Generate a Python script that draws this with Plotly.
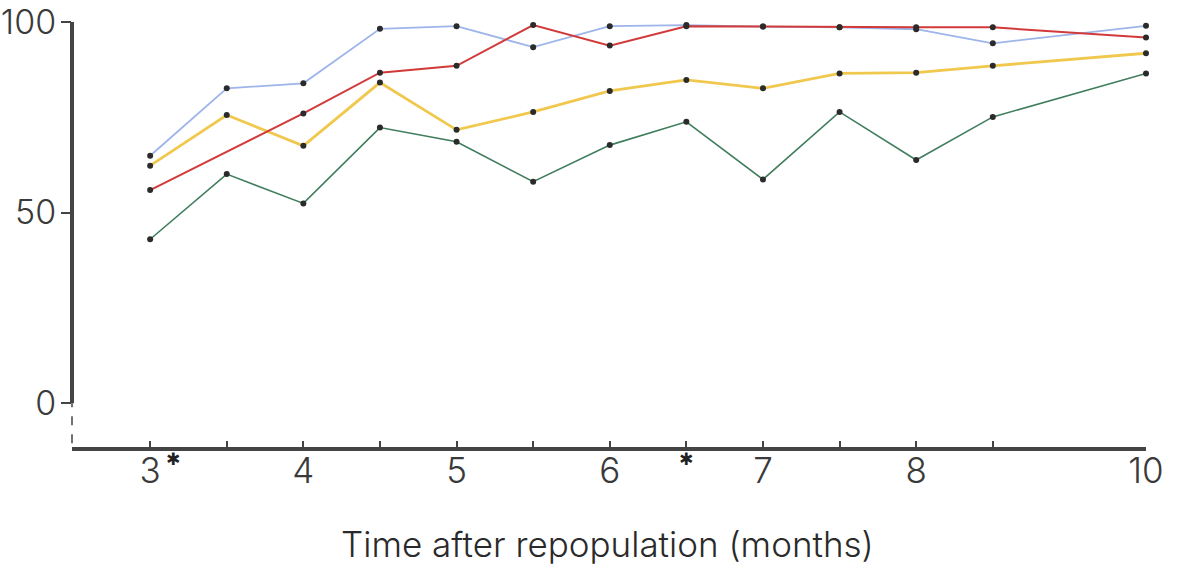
import plotly.graph_objects as go

# Months (category positions; "9" has no data and no tick, giving the broken-axis gap)
months = ["3", "3.5", "4", "4.5", "5", "5.5", "6", "6.5", "7", "7.5", "8", "8.5", "9", "10"]
tick_months = ["3", "3.5", "4", "4.5", "5", "5.5", "6", "6.5", "7", "7.5", "8", "8.5", "10"]
tick_labels = ["3", "", "4", "", "5", "", "6", "", "7", "", "8", "", "10"]
starred_months = ["3", "6.5"]

blue = [64.9, 82.6, 83.9, 98.2, 98.9, 93.4, 98.9, 99.2, 98.8, 98.6, 98.1, 94.4, None, 99.0]
red = [55.9, None, 76.0, 86.7, 88.5, 99.2, 93.8, 98.9, 98.8, 98.6, 98.6, 98.6, None, 95.9]
yellow = [62.3, 75.6, 67.5, 84.1, 71.7, 76.4, 81.9, 84.8, 82.6, 86.5, 86.7, 88.5, None, 91.8]
green = [43.0, 60.1, 52.4, 72.3, 68.6, 58.1, 67.7, 73.8, 58.7, 76.4, 63.8, 75.1, None, 86.5]

y_ticks = [0, 50, 100]
x_title = "Time after repopulation (months)"

FONT = "Inter, DejaVu Sans, sans-serif"
AXC = "#444444"
MARK = "#2b2b2b"

fig = go.Figure()
series = [
    (green, "#3f7d5c", 1.6),
    (yellow, "#f1c84e", 2.8),
    (blue, "#9db5ea", 1.8),
    (red, "#d23a3a", 2.0),
]
for vals, col, w in series:
    fig.add_trace(go.Scatter(
        x=months, y=vals, mode="lines+markers", connectgaps=True,
        line=dict(color=col, width=w),
        marker=dict(color=MARK, size=6),
        cliponaxis=False, showlegend=False, hoverinfo="skip",
    ))

# y axis drawn as solid line from 0 to 100, dashed below 0
fig.add_shape(type="line", xref="paper", yref="y", x0=0, x1=0, y0=0, y1=100,
              line=dict(color=AXC, width=4))
fig.add_shape(type="line", xref="paper", yref="y", x0=0, x1=0, y0=-10.5, y1=0,
              line=dict(color=AXC, width=1.5, dash="dash"))

# asterisks under the axis
for m, dx in zip(starred_months, [23, 0]):
    fig.add_annotation(x=months.index(m), y=0, yref="paper", xref="x", text="✱",
                       showarrow=False, xshift=dx, yshift=-24,
                       font=dict(family="DejaVu Sans", size=17, color="#222"))

# axis title
fig.add_annotation(x=0.5, y=0, xref="paper", yref="paper", text=x_title,
                   showarrow=False, yanchor="middle", yshift=-97, xshift=-2,
                   font=dict(family=FONT, size=35, color="#2a2a2a", weight=300))

fig.update_layout(
    width=1184, height=565,
    margin=dict(l=72, r=38, t=16, b=118),
    paper_bgcolor="white", plot_bgcolor="white",
    font=dict(family=FONT, color=AXC),
    xaxis=dict(
        type="category", categoryorder="array", categoryarray=months,
        range=[-1.02, 13], automargin=False,
        tickmode="array", tickvals=tick_months, ticktext=tick_labels,
        ticks="inside", ticklen=6, tickwidth=1.5, tickcolor=AXC,
        showline=True, linewidth=4, linecolor=AXC,
        showgrid=False, zeroline=False, ticklabelstandoff=-10,
        ticklabeloverflow="allow",
        tickfont=dict(family=FONT, size=35, color="#3a3a3a", weight=300),
    ),
    yaxis=dict(
        range=[-11.5, 101.57], automargin=False,
        tickmode="array", tickvals=y_ticks,
        ticks="outside", ticklen=10, tickwidth=2, tickcolor=AXC,
        showline=False, showgrid=False, zeroline=False,
        ticklabeloverflow="allow", ticklabelstandoff=-2,
        tickfont=dict(family=FONT, size=34, color="#3a3a3a", weight=300),
    ),
)

fig.write_html("out.html", config={"displayModeBar": False},
               post_script="document.body.style.margin='0';")
